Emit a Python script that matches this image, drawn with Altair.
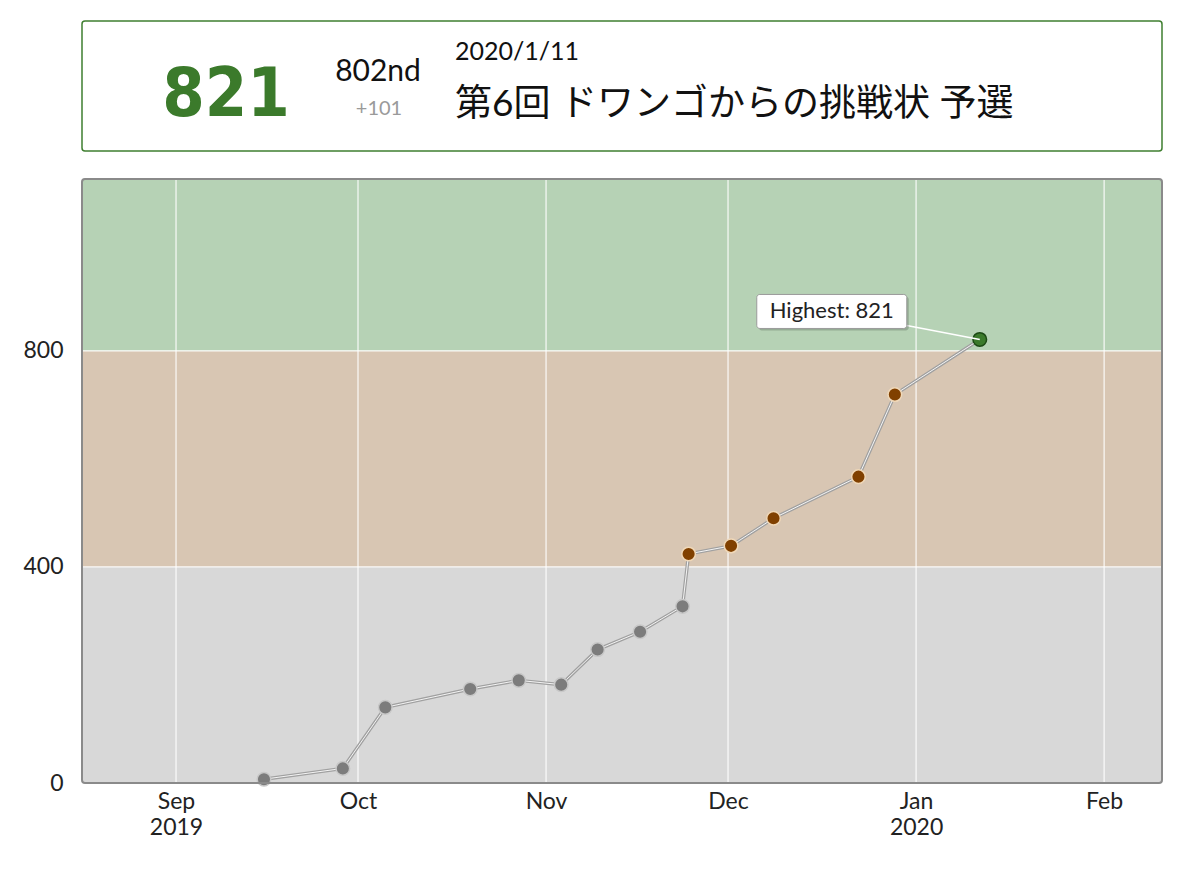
import pandas as pd
import altair as alt

# contest history (date of contest, rating after it)
dates = ["2019-09-15", "2019-09-28", "2019-10-05", "2019-10-19", "2019-10-27",
         "2019-11-03", "2019-11-09", "2019-11-16", "2019-11-23", "2019-11-24",
         "2019-12-01", "2019-12-08", "2019-12-22", "2019-12-28", "2020-01-11"]
ratings = [7, 27, 140, 174, 190, 182, 247, 280, 327, 424, 439, 490, 567, 719, 821]

# rating bands
tiers = ["gray", "brown", "green"]
band_lo = [0, 400, 800]
band_hi = [400, 800, 1200]
band_colors = ["#d8d8d8", "#d8c6b3", "#b6d2b5"]
point_fill = ["#7c7c7c", "#804000", "#3b7a2b"]
point_stroke = ["#c8c8c8", "#f0d8b8", "#1c4a14"]

y_ticks = [0, 400, 800]
month_ticks = [(2019, 9), (2019, 10), (2019, 11), (2019, 12), (2020, 1), (2020, 2)]

# header values
cur_rating = "821"
cur_rank = "802nd"
cur_diff = "+101"
cur_date = "2020/1/11"
contest_name = "第6回 ドワンゴからの挑戦状 予選"

FONT = "Lato, Noto Sans CJK JP, sans-serif"
W, H = 1080, 604

df = pd.DataFrame({"date": [d + "T12:00:00Z" for d in dates], "rating": ratings})
df["tier"] = pd.cut(df["rating"], bins=band_lo + [band_hi[-1]], labels=tiers, right=False).astype(str)
best = df.loc[[df["rating"].idxmax()]].copy()
best["label"] = "Highest: " + best["rating"].astype(str)

bands = pd.DataFrame({"tier": tiers, "lo": band_lo, "hi": band_hi})
vgrid = pd.DataFrame({"d": [f"{y}-{m:02d}-01T00:00:00Z" for y, m in month_ticks]})
hgrid = pd.DataFrame({"v": y_ticks[1:]})

x_scale = alt.Scale(
    type="utc",
    domain=[alt.DateTime(year=2019, month=8, date=16, hours=12, utc=True),
            alt.DateTime(year=2020, month=2, date=10, hours=13, utc=True)],
)
y_scale = alt.Scale(domain=[0, 1118])

x_axis = alt.Axis(
    values=[alt.DateTime(year=y, month=m, date=1, utc=True) for y, m in month_ticks],
    labelExpr="utcmonth(datum.value) == 8 || utcmonth(datum.value) == 0 "
              "? [utcFormat(datum.value, '%b'), utcFormat(datum.value, '%Y')] "
              ": utcFormat(datum.value, '%b')",
    grid=False, domain=False, ticks=False, title=None,
    labelFont=FONT, labelFontSize=23, labelColor="#222", labelPadding=7,
    labelLineHeight=26, labelBaseline="top",
)
y_axis = alt.Axis(
    values=y_ticks, grid=False, domain=False, ticks=False, title=None,
    labelFont=FONT, labelFontSize=23, labelColor="#222", labelPadding=19,
)

band_layer = alt.Chart(bands).mark_rect(clip=True).encode(
    y=alt.Y("lo:Q", scale=y_scale, axis=y_axis),
    y2="hi:Q",
    color=alt.Color("tier:N", scale=alt.Scale(domain=tiers, range=band_colors), legend=None),
)

vgrid_layer = alt.Chart(vgrid).mark_rule(color="white", strokeWidth=1.2, opacity=0.9).encode(
    x=alt.X("d:T", scale=x_scale, axis=x_axis)
)
hgrid_layer = alt.Chart(hgrid).mark_rule(color="white", strokeWidth=1.2, opacity=0.9).encode(
    y=alt.Y("v:Q", scale=y_scale)
)

line_base = alt.Chart(df).encode(
    x=alt.X("date:T", scale=x_scale),
    y=alt.Y("rating:Q", scale=y_scale),
)
line_outer = line_base.mark_line(color="#a0a0a0", strokeWidth=3.4)
line_inner = line_base.mark_line(color="#f4f4f4", strokeWidth=1)

points = line_base.mark_circle(size=185, strokeWidth=1.5, opacity=1).encode(
    fill=alt.Fill("tier:N", scale=alt.Scale(domain=tiers, range=point_fill), legend=None),
    stroke=alt.Stroke("tier:N", scale=alt.Scale(domain=tiers, range=point_stroke), legend=None),
)

ann_base = alt.Chart(best).encode(
    x=alt.X("date:T", scale=x_scale),
    y=alt.Y("rating:Q", scale=y_scale),
)
connector = ann_base.mark_rule(color="white", strokeWidth=1.5, x2Offset=-73, y2Offset=-14).encode(
    x2="date:T", y2="rating:Q"
)
box_shadow = ann_base.mark_rect(
    fill="black", opacity=0.18, cornerRadius=3,
    xOffset=-221, x2Offset=-71, yOffset=-43, y2Offset=-9,
).encode(x2="date:T", y2="rating:Q")
box = ann_base.mark_rect(
    fill="white", stroke="#9a9a9a", strokeWidth=1, cornerRadius=3,
    xOffset=-223, x2Offset=-73, yOffset=-45, y2Offset=-11,
).encode(x2="date:T", y2="rating:Q")
box_text = ann_base.mark_text(
    font=FONT, fontSize=22, color="#222", dx=-148, dy=-28, align="center", baseline="middle"
).encode(text="label:N")

frame = alt.Chart(bands.head(1)).mark_rect(
    fillOpacity=0, stroke="#8a8a8a", strokeWidth=2, cornerRadius=3
).encode(x=alt.value(0), x2=alt.value(W), y=alt.value(0), y2=alt.value(H))

plot = alt.layer(
    band_layer, vgrid_layer, hgrid_layer, line_outer, line_inner, points,
    connector, box_shadow, box, box_text, frame,
).properties(width=W, height=H, view=alt.ViewBackground(stroke=None))

# header card
one = pd.DataFrame({"k": [0]})


def header_text(txt, x, y, size, color="#111", align="left", font=FONT, weight="normal"):
    return alt.Chart(one).mark_text(
        text=txt, font=font, fontSize=size, color=color, align=align,
        baseline="alphabetic", fontWeight=weight,
    ).encode(x=alt.value(x), y=alt.value(y))


header = alt.layer(
    header_text(cur_rating, 144, 95, 68, color="#3b7a2b", align="center",
                font="DejaVu Sans Condensed, sans-serif", weight="bold"),
    header_text(cur_rank, 296, 60, 30, align="center"),
    header_text(cur_diff, 297, 94, 20, color="#9a9a9a", align="center"),
    header_text(cur_date, 373, 39, 25),
    header_text(contest_name, 373, 95, 37),
).properties(
    width=W, height=130,
    view=alt.ViewBackground(stroke="#3f7f30", strokeWidth=1.5, cornerRadius=3, fill="white"),
)

chart = alt.vconcat(header, plot, spacing=28, bounds="flush").properties(
    padding={"left": 14, "top": 12, "right": 10, "bottom": 10}
).resolve_scale(color="independent")

chart.save("out.html", embed_options={"renderer": "svg", "actions": False})
